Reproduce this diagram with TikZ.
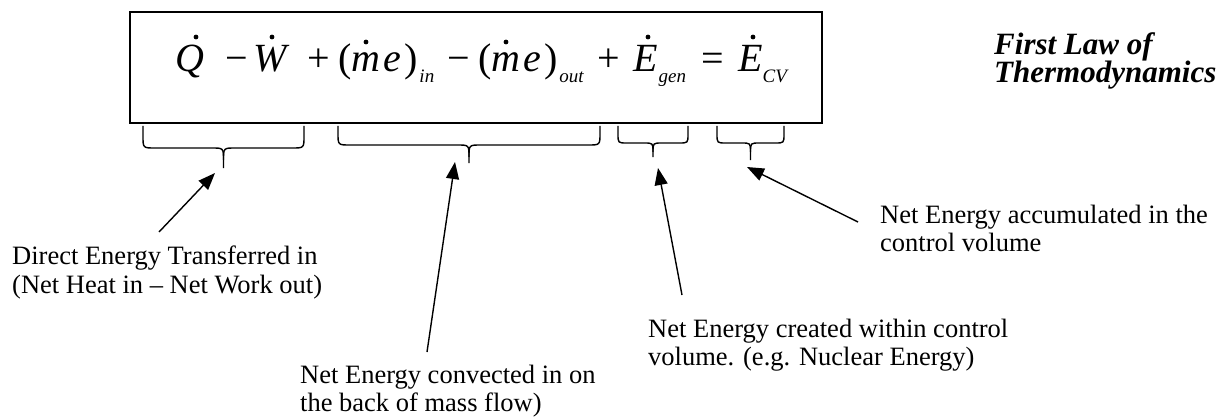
\documentclass[tikz,border=0pt]{standalone}
\usepackage{fontspec}
\setmainfont{Liberation Serif}
\usetikzlibrary{arrows.meta}
\tikzset{
  lbl/.style={anchor=base west, inner sep=0pt, font=\fontsize{26.5}{30}\selectfont},
  eqtok/.style={anchor=base west, inner sep=0pt, font=\fontsize{40}{44}\selectfont},
  ttl/.style={anchor=base west, inner sep=0pt, font=\fontsize{31}{34}\selectfont\bfseries\itshape},
  brc/.style={line width=1.4pt},
  arr/.style={line width=1.4pt, -{Triangle[length=17pt,width=13pt]}},
  eqbox/.style={draw, line width=2pt, inner sep=0pt, anchor=north west},
  dotmark/.style={fill=black}
}
\newcommand\sbs[1]{\raisebox{-10.5pt}{\fontsize{19}{19}\selectfont\itshape #1}}
\newcommand\cbrace[7]{%
  \pgfmathsetmacro\xc{(#1+#2)/2}%
  \draw[brc] (#1,#3) -- (#1,#4-#6) .. controls (#1,#4) .. (#1+#6,#4) -- (\xc-#6,#4) .. controls (\xc,#4) .. (\xc,#4+#6) -- (\xc,#5);
  \draw[brc] (#2,#3) -- (#2,#4-#6) .. controls (#2,#4) .. (#2-#6,#4) -- (\xc+#6,#4) .. controls (\xc,#4) .. (\xc,#4+#6);
  \coordinate (#7) at (\xc,#5);}
\begin{document}
\begin{tikzpicture}[x=1pt,y=-1pt]
\useasboundingbox (0,0) rectangle (1228,417);
% box
\node[eqbox, minimum width=692pt, minimum height=111pt] (box) at (129,11) {};
% equation
\node[eqtok] (q)    at (175,72) {\itshape Q};
\node[eqtok] (mn1)  at (225,72) {−};
\node[eqtok] (w)    at (253,72) {\itshape W};
\node[eqtok] (pl1)  at (307,72) {+};
\node[eqtok] (mein) at (338,72) {({\itshape m}\kern3pt{\itshape e}\kern3pt)\kern2pt\sbs{in}};
\node[eqtok] (mn2)  at (447,72) {−};
\node[eqtok] (meout) at (478,72) {({\itshape m}\kern3pt{\itshape e}\kern3pt)\kern2pt\sbs{out}};
\node[eqtok] (pl2)  at (597,72) {+};
\node[eqtok] (egen) at (633,72) {{\itshape E}\kern1pt\sbs{gen}};
\node[eqtok] (eql)  at (701,72) {=};
\node[eqtok] (ecv)  at (738,72) {{\itshape E}\sbs{CV}};
% time-derivative dots
\fill[dotmark] (q.base west)     ++(21,-35) circle (2.4pt);
\fill[dotmark] (w.base west)     ++(19,-35) circle (2.4pt);
\fill[dotmark] (mein.base west)  ++(28,-30) circle (2.4pt);
\fill[dotmark] (meout.base west) ++(28,-30) circle (2.4pt);
\fill[dotmark] (egen.base west)  ++(15,-35) circle (2.4pt);
\fill[dotmark] (ecv.base west)   ++(15,-35) circle (2.4pt);
% title
\node[ttl] (tt1) at (994,55) {First Law of};
\node[ttl] (tt2) at (994,83) {Thermodynamics};
% braces
\cbrace{143}{304}{126}{148}{168}{12}{b1}
\cbrace{338}{600}{126}{145}{163}{12}{b2}
\cbrace{618}{688}{126}{143}{157}{9}{b3}
\cbrace{717}{784}{126}{143}{160}{9}{b4}
% labels
\node[lbl] (l1a) at (12,264) {Direct Energy Transferred in};
\node[lbl] (l1b) at (12,293) {(Net Heat in – Net Work out)};
\node[lbl] (l2a) at (300,383) {Net Energy convected in on};
\node[lbl] (l2b) at (300,411) {the back of mass flow)};
\node[lbl] (l3a) at (648,337) {Net Energy created within control};
\node[lbl] (l3b) at (648,365) {volume. (e.g. Nuclear Energy)};
\node[lbl] (l4a) at (880,223) {Net Energy accumulated in the};
\node[lbl] (l4b) at (880,251) {control volume};
% arrow ends
\coordinate (s1) at (159,232); \coordinate (e1) at (215,173);
\coordinate (s2) at (427,352); \coordinate (e2) at (455,162);
\coordinate (s3) at (682,295); \coordinate (e3) at (658,168);
\coordinate (s4) at (858,222); \coordinate (e4) at (747,167);
\draw[arr] (s1) -- (e1);
\draw[arr] (s2) -- (e2);
\draw[arr] (s3) -- (e3);
\draw[arr] (s4) -- (e4);
\end{tikzpicture}
\end{document}
